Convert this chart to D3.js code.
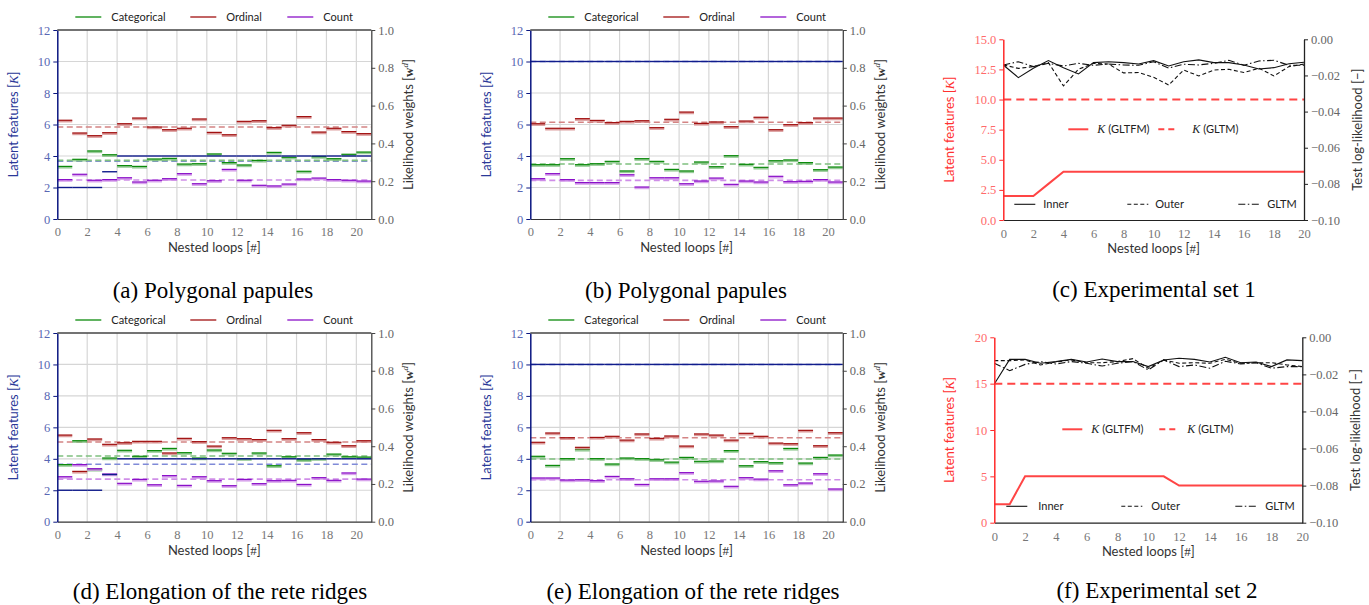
<!DOCTYPE html>
<html>
<head>
<meta charset="UTF-8">
<script src="https://d3js.org/d3.v7.min.js"></script>
<style>
  body { margin: 0; background: #fff; }
  svg { display: block; }
  .tick text { font-family: "Liberation Serif", serif; font-size: 12.5px; }
  .lab { font-family: Lato, sans-serif; font-size: 13px; }
  .leg { font-family: Lato, sans-serif; font-size: 11px; fill: #222; }
  .cap { font-family: "Liberation Serif", serif; font-size: 23px; fill: #000; }
</style>
</head>
<body>
<svg width="1369" height="605"></svg>
<script>
// nested loops 0..20 (step segments span i..i+1)
const loops = d3.range(21);

// (a) Polygonal papules
const catA = [3.34,3.79,4.32,4.08,3.39,3.34,3.81,3.85,3.49,3.51,4.13,3.58,3.43,3.72,4.23,3.92,3.03,3.96,3.83,4.11,4.25];
const ordA = [6.27,5.46,5.29,5.48,6.05,6.41,5.84,5.67,5.76,6.35,5.50,5.35,6.20,6.24,5.80,5.95,6.50,5.52,5.76,5.55,5.42];
const cntA = [2.50,2.84,2.46,2.50,2.62,2.35,2.46,2.56,2.88,2.24,2.43,3.15,2.46,2.14,2.10,2.22,2.54,2.60,2.50,2.46,2.41];
const kA   = [2,2,2,3,4,4,4,4,4,4,4,4,4,4,4,4,4,4,4,4,4];
const meanA = [3.72, 5.84, 2.48, 3.67];   // cat, ord, cnt, K

// (b) Polygonal papules
const catB = [3.45,3.45,3.83,3.45,3.51,3.66,3.05,3.83,3.66,3.15,3.05,3.62,3.32,4.02,3.47,3.28,3.70,3.75,3.58,3.13,3.30];
const ordB = [6.05,5.76,5.76,6.37,6.26,6.12,6.20,6.24,5.80,6.33,6.79,6.07,6.16,5.86,6.22,6.46,5.67,5.99,6.12,6.41,6.41];
const cntB = [2.56,2.88,2.50,2.31,2.31,2.31,2.81,2.03,2.62,2.62,2.24,2.41,2.60,2.20,2.41,2.35,2.71,2.37,2.39,2.50,2.35];
const kB   = [10,10,10,10,10,10,10,10,10,10,10,10,10,10,10,10,10,10,10,10,10];
const meanB = [3.49, 6.14, 2.45, 10];

// (d) Elongation of the rete ridges
const catD = [3.63,5.15,3.33,4.05,4.54,4.16,4.52,4.66,4.39,4.05,4.56,4.35,4.01,4.37,3.56,4.13,3.94,4.01,4.30,4.13,4.11];
const ordD = [5.51,3.20,5.26,4.92,5.02,5.11,5.11,4.37,5.30,5.09,4.81,5.34,5.28,5.22,5.81,5.28,5.66,5.22,5.05,4.83,5.15];
const cntD = [2.86,3.63,3.37,3.03,2.44,2.69,2.35,2.93,2.31,2.86,2.61,2.29,2.69,2.42,2.61,2.63,2.37,2.80,2.63,3.10,2.71];
const kD   = [2,2,2,3,4,4,4,4,4,4,4,4,4,4,4,4,4,4,4,4,4];
const meanD = [4.18, 5.07, 2.71, 3.65];

// (e) Elongation of the rete ridges
const catE = [4.16,3.58,4.01,4.60,4.01,3.67,4.05,4.01,3.94,3.79,4.09,3.84,3.86,4.52,3.56,3.82,3.75,4.66,3.73,4.09,4.24];
const ordE = [5.05,5.64,5.34,4.73,5.36,5.43,5.19,5.58,5.30,5.45,4.81,5.58,5.51,5.19,5.62,5.43,5.00,4.96,5.81,4.83,5.66];
const cntE = [2.78,2.78,2.65,2.67,2.61,2.88,2.73,2.37,2.73,2.73,3.12,2.57,2.59,2.25,2.80,2.71,3.24,2.35,2.46,3.05,2.08];
const kE   = [10,10,10,10,10,10,10,10,10,10,10,10,10,10,10,10,10,10,10,10,10];
const meanE = [3.99, 5.34, 2.67, 10];

// (c) Experimental set 1
const kGltfmC = [2,2,2,3,4,4,4,4,4,4,4,4,4,4,4,4,4,4,4,4,4];
const kGltmC = 10;
const innerC = [-0.0142,-0.0212,-0.0160,-0.0118,-0.0157,-0.0192,-0.0129,-0.0124,-0.0129,-0.0137,-0.0118,-0.0148,-0.0124,-0.0114,-0.0129,-0.0129,-0.0142,-0.0164,-0.0157,-0.0135,-0.0127];
const outerC = [-0.0142,-0.0161,-0.0151,-0.0129,-0.0258,-0.0166,-0.0133,-0.0137,-0.0186,-0.0184,-0.0210,-0.0253,-0.0170,-0.0203,-0.0170,-0.0166,-0.0184,-0.0160,-0.0203,-0.0151,-0.0137];
const gltmC  = [-0.0142,-0.0124,-0.0151,-0.0133,-0.0148,-0.0133,-0.0144,-0.0137,-0.0142,-0.0144,-0.0124,-0.0159,-0.0138,-0.0142,-0.0133,-0.0116,-0.0144,-0.0120,-0.0116,-0.0144,-0.0144];

// (f) Experimental set 2
const kGltfmF = [2,2,5,5,5,5,5,5,5,5,5,5,4,4,4,4,4,4,4,4,4];
const kGltmF = 15;
const innerF = [-0.0252,-0.0119,-0.0119,-0.0140,-0.0131,-0.0119,-0.0133,-0.0117,-0.0131,-0.0131,-0.0158,-0.0122,-0.0113,-0.0119,-0.0133,-0.0108,-0.0137,-0.0133,-0.0158,-0.0122,-0.0126];
const outerF = [-0.0126,-0.0126,-0.0122,-0.0149,-0.0133,-0.0122,-0.0137,-0.0137,-0.0131,-0.0115,-0.0167,-0.0122,-0.0140,-0.0137,-0.0140,-0.0119,-0.0140,-0.0137,-0.0137,-0.0149,-0.0158];
const gltmF  = [-0.0140,-0.0180,-0.0146,-0.0131,-0.0144,-0.0131,-0.0140,-0.0155,-0.0140,-0.0131,-0.0176,-0.0122,-0.0158,-0.0149,-0.0167,-0.0129,-0.0144,-0.0137,-0.0167,-0.0158,-0.0158];

const seriesNames = ["Categorical", "Ordinal", "Count"];
const colors = ["#0c8a0c", "#a11010", "#8a10c8", "#101c8c"];
const lightColors = ["#7fc07f", "#d48484", "#cf8ee8", "#7f8ad8"];
const llNames = ["Inner", "Outer", "GLTM"];

const svg = d3.select("svg");

function stepPanel(left, top, width, height, cat, ord, cnt, k, means) {
  const g = svg.append("g").attr("transform", `translate(${left},${top})`);
  const x = d3.scaleLinear().domain([0, 21]).range([0, width]);
  const y = d3.scaleLinear().domain([0, 12]).range([height, 0]);
  const yr = d3.scaleLinear().domain([0, 1]).range([height, 0]);

  // grid
  g.selectAll(".gx").data(d3.range(2, 21, 2)).enter().append("line")
    .attr("x1", d => x(d)).attr("x2", d => x(d)).attr("y1", 0).attr("y2", height)
    .attr("stroke", "#d6d6d6").attr("stroke-width", 1.2);
  g.selectAll(".gy").data(d3.range(2, 12, 2)).enter().append("line")
    .attr("x1", 0).attr("x2", width).attr("y1", d => y(d)).attr("y2", d => y(d))
    .attr("stroke", "#d6d6d6").attr("stroke-width", 1.2);

  // mean lines (dashed)
  [3, 0, 1, 2].forEach(s => {
    g.append("line").attr("x1", 0).attr("x2", width)
      .attr("y1", y(means[s])).attr("y2", y(means[s]))
      .attr("stroke", lightColors[s]).attr("stroke-width", 1.6)
      .attr("stroke-dasharray", "6,3.5");
  });

  // step segments per nested loop
  [cat, ord, cnt].forEach((vals, s) => {
    g.selectAll(null).data(loops).enter().append("line")
      .attr("x1", d => x(d)).attr("x2", d => x(d + 1))
      .attr("y1", d => y(vals[d]) + 1).attr("y2", d => y(vals[d]) + 1)
      .attr("stroke", lightColors[s]).attr("stroke-width", 2.4).attr("opacity", 0.8);
    g.selectAll(null).data(loops).enter().append("line")
      .attr("x1", d => x(d)).attr("x2", d => x(d + 1))
      .attr("y1", d => y(vals[d])).attr("y2", d => y(vals[d]))
      .attr("stroke", colors[s]).attr("stroke-width", 1.2);
  });
  g.selectAll(null).data(loops).enter().append("line")
    .attr("x1", d => x(d)).attr("x2", d => x(d + 1))
    .attr("y1", d => y(k[d])).attr("y2", d => y(k[d]))
    .attr("stroke", colors[3]).attr("stroke-width", 1.4);

  // axes
  const ax = g.append("g").attr("transform", `translate(0,${height})`)
    .call(d3.axisBottom(x).tickValues(d3.range(0, 21, 2)).tickSize(0).tickPadding(8));
  ax.select(".domain").attr("stroke", "#333").attr("stroke-width", 1.2);
  ax.selectAll("text").attr("fill", "#777");

  const ay = g.append("g")
    .call(d3.axisLeft(y).tickValues(d3.range(0, 13, 2)).tickSize(4).tickSizeOuter(0).tickPadding(3));
  ay.select(".domain").attr("stroke", "#0a1680").attr("stroke-width", 1.5);
  ay.selectAll(".tick line").attr("stroke", "#0a1680");
  ay.selectAll("text").attr("fill", "#5868b4");

  const ar = g.append("g").attr("transform", `translate(${width},0)`)
    .call(d3.axisRight(yr).tickValues(d3.range(0, 1.01, 0.2)).tickFormat(d3.format(".1f")).tickSize(4).tickSizeOuter(0).tickPadding(3));
  ar.select(".domain").attr("stroke", "#444").attr("stroke-width", 1.3);
  ar.selectAll(".tick line").attr("stroke", "#444");
  ar.selectAll("text").attr("fill", "#666");

  g.append("line").attr("x1", 0).attr("x2", width).attr("y1", 0).attr("y2", 0)
    .attr("stroke", "#444").attr("stroke-width", 1.3);

  // labels
  g.append("text").attr("class", "lab").attr("text-anchor", "middle")
    .attr("x", width / 2).attr("y", height + 33).attr("fill", "#333")
    .html("Nested loops [<tspan font-family='Liberation Serif'>#</tspan>]");
  const ly = g.append("text").attr("class", "lab").attr("text-anchor", "middle")
    .attr("transform", `translate(-39,${height / 2}) rotate(-90)`).attr("fill", "#2a3898");
  ly.append("tspan").text("Latent features [");
  ly.append("tspan").attr("font-family", "Liberation Serif").attr("font-style", "italic").text("K");
  ly.append("tspan").text("]");
  const ry = g.append("text").attr("class", "lab").attr("text-anchor", "middle")
    .attr("transform", `translate(${width + 42},${height / 2}) rotate(-90)`).attr("fill", "#333");
  ry.append("tspan").text("Likelihood weights [");
  ry.append("tspan").attr("font-family", "Liberation Serif").attr("font-weight", "bold").text("w");
  ry.append("tspan").attr("font-family", "Liberation Serif").attr("font-style", "italic")
    .attr("font-size", "9px").attr("dy", -5).text("d");
  ry.append("tspan").attr("dy", 5).text("]");

  // legend
  const lx = [18, 133, 230];
  seriesNames.forEach((name, s) => {
    g.append("line").attr("x1", lx[s]).attr("x2", lx[s] + 26).attr("y1", -13).attr("y2", -13)
      .attr("stroke", colors[s]).attr("stroke-width", 1.3);
    g.append("text").attr("class", "leg").attr("x", lx[s] + 36).attr("y", -9.5).text(name);
  });
}

function llPanel(left, top, width, height, kMax, kStep, kFmt, kGltfm, kGltm, inner, outer, gltm, leg) {
  const g = svg.append("g").attr("transform", `translate(${left},${top})`);
  const x = d3.scaleLinear().domain([0, 20]).range([0, width]);
  const y = d3.scaleLinear().domain([0, kMax]).range([height, 0]);
  const yr = d3.scaleLinear().domain([-0.1, 0]).range([height, 0]);

  // test log-likelihood lines
  const line = d3.line().x((d, i) => x(loops[i])).y(d => yr(d));
  const dashes = [null, "4,2.5", "7,2.5,1.5,2.5"];
  [inner, outer, gltm].forEach((vals, s) => {
    g.append("path").datum(vals).attr("d", line).attr("fill", "none")
      .attr("stroke", "#111").attr("stroke-width", 1.1)
      .attr("stroke-dasharray", dashes[s]);
  });

  // K lines
  const kLine = d3.line().x((d, i) => x(loops[i])).y(d => y(d));
  g.append("path").datum(kGltfm).attr("d", kLine).attr("fill", "none")
    .attr("stroke", "#ff4545").attr("stroke-width", 2);
  g.append("line").attr("x1", 0).attr("x2", width).attr("y1", y(kGltm)).attr("y2", y(kGltm))
    .attr("stroke", "#ff4545").attr("stroke-width", 2).attr("stroke-dasharray", "8,5");

  // axes
  const ax = g.append("g").attr("transform", `translate(0,${height})`)
    .call(d3.axisBottom(x).tickValues(d3.range(0, 21, 2)).tickSize(0).tickPadding(9));
  ax.select(".domain").attr("stroke", "#222").attr("stroke-width", 1.2);
  ax.selectAll("text").attr("fill", "#777");

  const ay = g.append("g")
    .call(d3.axisLeft(y).tickValues(d3.range(0, kMax + 0.01, kStep)).tickFormat(kFmt).tickSize(4).tickSizeOuter(0).tickPadding(3));
  ay.select(".domain").attr("stroke", "#ff2a2a").attr("stroke-width", 1.5);
  ay.selectAll(".tick line").attr("stroke", "#ff2a2a");
  ay.selectAll("text").attr("fill", "#ff6a6a");

  const fmtR = d => d === 0 ? "0.00" : d3.format(".2f")(d).replace("-", "\u2212");
  const ar = g.append("g").attr("transform", `translate(${width},0)`)
    .call(d3.axisRight(yr).tickValues([-0.1, -0.08, -0.06, -0.04, -0.02, 0]).tickFormat(fmtR).tickSize(4).tickSizeOuter(0).tickPadding(3));
  ar.select(".domain").attr("stroke", "#222").attr("stroke-width", 1.3);
  ar.selectAll(".tick line").attr("stroke", "#222");
  ar.selectAll("text").attr("fill", "#666");

  // labels
  g.append("text").attr("class", "lab").attr("text-anchor", "middle")
    .attr("x", width / 2).attr("y", height + 33).attr("fill", "#333")
    .html("Nested loops [<tspan font-family='Liberation Serif'>#</tspan>]");
  const ly = g.append("text").attr("class", "lab").attr("text-anchor", "middle")
    .attr("transform", `translate(${leg.labelX},${height / 2}) rotate(-90)`).attr("fill", "#ff3030");
  ly.append("tspan").text("Latent features [");
  ly.append("tspan").attr("font-family", "Liberation Serif").attr("font-style", "italic").text("K");
  ly.append("tspan").text("]");
  g.append("text").attr("class", "lab").attr("text-anchor", "middle")
    .attr("transform", `translate(${width + 58},${height / 2}) rotate(-90)`).attr("fill", "#333")
    .text("Test log-likelihood [\u2212]");

  // legend: K
  const kNames = ["(GLTFM)", "(GLTM)"];
  kNames.forEach((name, s) => {
    g.append("line").attr("x1", leg.kx[s]).attr("x2", leg.kx[s] + 20).attr("y1", leg.y1).attr("y2", leg.y1)
      .attr("stroke", "#ff4545").attr("stroke-width", 2).attr("stroke-dasharray", s ? "6,4" : null);
    const t = g.append("text").attr("class", "leg").attr("x", leg.kt[s]).attr("y", leg.y1 + 3.5);
    t.append("tspan").attr("font-family", "Liberation Serif").attr("font-style", "italic").attr("font-size", "12px").text("K ");
    t.append("tspan").text(name);
  });
  // legend: log-likelihood
  llNames.forEach((name, s) => {
    g.append("line").attr("x1", leg.lx[s]).attr("x2", leg.lx[s] + 21).attr("y1", leg.y2).attr("y2", leg.y2)
      .attr("stroke", "#111").attr("stroke-width", 1.1).attr("stroke-dasharray", dashes[s]);
    g.append("text").attr("class", "leg").attr("x", leg.lt[s]).attr("y", leg.y2 + 3.5).text(name);
  });
}

stepPanel(57.3, 30, 314, 189, catA, ordA, cntA, kA, meanA);
stepPanel(530.3, 30, 312.5, 189, catB, ordB, cntB, kB, meanB);
stepPanel(57.3, 333, 314, 188.7, catD, ordD, cntD, kD, meanD);
stepPanel(530.3, 333, 312.5, 188.7, catE, ordE, cntE, kE, meanE);
llPanel(1003.3, 39.3, 300.7, 180.7, 15, 2.5, d3.format(".1f"), kGltfmC, kGltmC, innerC, outerC, gltmC,
  { labelX: -49, y1: 90, y2: 165, kx: [65, 155], kt: [94, 189], lx: [11, 124, 235], lt: [40, 152, 264] });
llPanel(994.3, 337.3, 308, 185.4, 20, 5, d3.format("d"), kGltfmF, kGltmF, innerF, outerF, gltmF,
  { labelX: -40, y1: 92, y2: 169, kx: [68, 165], kt: [97, 193], lx: [12, 127, 241], lt: [44, 157, 271] });

// captions
const captions = [
  ["(a) Polygonal papules", 213, 298],
  ["(b) Polygonal papules", 686, 298],
  ["(c) Experimental set 1", 1154, 297],
  ["(d) Elongation of the rete ridges", 220, 599],
  ["(e) Elongation of the rete ridges", 693, 599],
  ["(f) Experimental set 2", 1157, 598]
];
svg.selectAll(".cap").data(captions).enter().append("text")
  .attr("class", "cap").attr("text-anchor", "middle")
  .attr("x", d => d[1]).attr("y", d => d[2]).text(d => d[0]);
</script>
</body>
</html>
